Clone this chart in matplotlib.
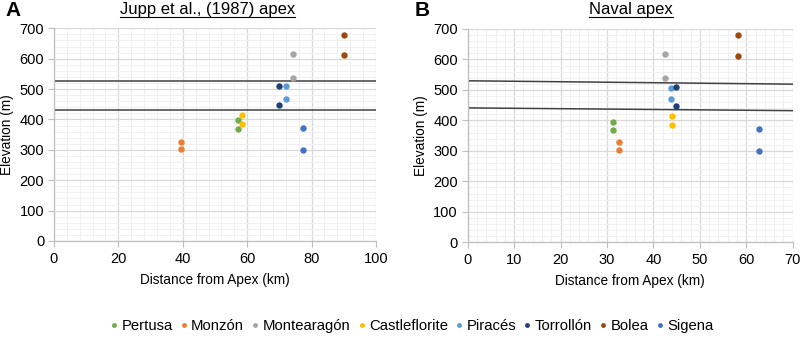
import numpy as np
import matplotlib
matplotlib.use("Agg")
import matplotlib.pyplot as plt
from matplotlib.ticker import MultipleLocator
from matplotlib.lines import Line2D

plt.rcParams['font.family'] = ['Liberation Sans', 'DejaVu Sans']

sites = ['Pertusa', 'Monzón', 'Montearagón', 'Castleflorite', 'Piracés',
         'Torrollón', 'Bolea', 'Sigena']
colors = ['#70AD47', '#ED7D31', '#A5A5A5', '#FFC000', '#5B9BD5',
          '#1F3F77', '#9E480E', '#4472C4']

# panel A: Jupp et al. (1987) apex -- two points per site
dist_a = [[57.2, 57.2], [39.3, 39.3], [74.3, 74.3], [58.4, 58.4],
          [72.1, 72.1], [70.0, 69.8], [90.1, 90.1], [77.2, 77.2]]
elev_a = [[397, 368], [327, 302], [617, 537], [415, 385],
          [510, 468], [510, 448], [679, 612], [373, 299]]
lines_a_x = [0, 100]
lines_a_y = [[528, 528], [430, 430]]

# panel B: Naval apex
dist_b = [[31.4, 31.4], [32.5, 32.5], [42.6, 42.6], [44.1, 44.1],
          [43.9, 43.9], [44.9, 44.9], [58.2, 58.2], [62.7, 62.7]]
elev_b = [[395, 368], [328, 303], [618, 538], [416, 385],
          [507, 469], [510, 446], [679, 612], [372, 298]]
lines_b_x = [0, 70]
lines_b_y = [[530, 519], [441, 432]]

fig = plt.figure(figsize=(8.03, 3.39), dpi=100)
ax_a = fig.add_axes([0.0672, 0.2891, 0.4010, 0.6274])
ax_b = fig.add_axes([0.5824, 0.2853, 0.4047, 0.6292])


def style_axis(ax, xmax, xmajor, xminor):
    ax.set_xlim(0, xmax)
    ax.set_ylim(0, 700)
    ax.xaxis.set_major_locator(MultipleLocator(xmajor))
    ax.xaxis.set_minor_locator(MultipleLocator(xminor))
    ax.yaxis.set_major_locator(MultipleLocator(100))
    ax.yaxis.set_minor_locator(MultipleLocator(20))
    ax.grid(which='major', color='#D9D9D9', lw=0.9)
    ax.grid(which='minor', color='#F0F0F0', lw=0.7)
    ax.set_axisbelow(True)
    for s in ['top', 'right']:
        ax.spines[s].set_visible(False)
    for s in ['left', 'bottom']:
        ax.spines[s].set_color('#BFBFBF')
        ax.spines[s].set_linewidth(0.9)
    ax.tick_params(which='major', length=4, color='#BFBFBF', labelsize=10.5)
    ax.tick_params(axis='x', pad=4)
    ax.tick_params(axis='y', pad=3)
    ax.tick_params(which='minor', length=0)
    ax.set_xlabel('Distance from Apex (km)', fontsize=9.8, labelpad=5)
    ax.set_ylabel('Elevation (m)', fontsize=9.8, labelpad=4)


def draw(ax, dist, elev, lx, ly):
    for d, e, c, name in zip(dist, elev, colors, sites):
        ax.plot(d, e, 'o', color=c, ms=4.6, mec='none', label=name, zorder=3)
    for y in ly:
        ax.plot(lx, y, color='#404040', lw=1.1, zorder=2)


style_axis(ax_a, 100, 20, 4)
style_axis(ax_b, 70, 10, 2)
draw(ax_a, dist_a, elev_a, lines_a_x, lines_a_y)
draw(ax_b, dist_b, elev_b, lines_b_x, lines_b_y)

# underlined titles
titles = [('Jupp et al., (1987) apex', 207.8 / 803),
          ('Naval apex', 631 / 803)]
fig.canvas.draw()
renderer = fig.canvas.get_renderer()
for txt, xc in titles:
    t = fig.text(xc, 1 - 14 / 339, txt, ha='center', va='baseline',
                 fontsize=12)
    bb = t.get_window_extent(renderer).transformed(fig.transFigure.inverted())
    yline = 1 - 16.5 / 339
    fig.add_artist(Line2D([bb.x0, bb.x1], [yline, yline],
                          transform=fig.transFigure, color='black', lw=0.8))

fig.text(5 / 803, 1 - 10 / 339, 'A', fontsize=15, fontweight='bold',
         va='center', ha='left')
fig.text(415 / 803, 1 - 10 / 339, 'B', fontsize=15, fontweight='bold',
         va='center', ha='left')

handles = [Line2D([], [], marker='o', ls='none', color=c, mec='none', ms=3.5)
           for c in colors]
fig.legend(handles, sites, loc='center', bbox_to_anchor=(410 / 803, 1 - 326 / 339),
           ncol=8, frameon=False, fontsize=10.7, handletextpad=0.0,
           columnspacing=0.25, handlelength=1.0, borderpad=0)

fig.savefig('out.png', dpi=100)
